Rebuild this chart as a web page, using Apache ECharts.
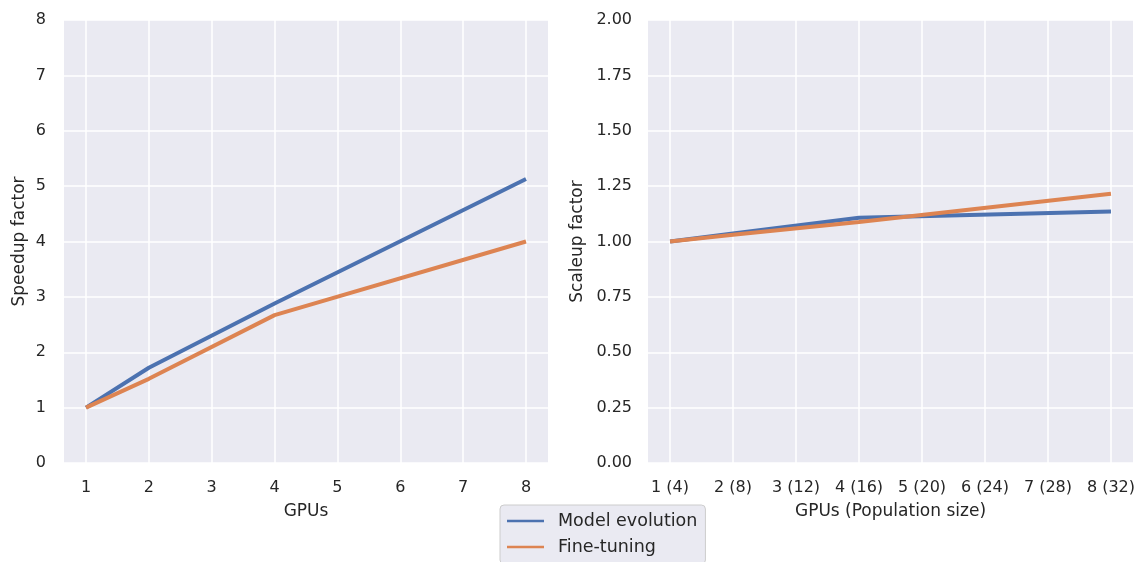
<!DOCTYPE html>
<html>
<head>
<meta charset="utf-8">
<script src="https://cdn.jsdelivr.net/npm/echarts@6/dist/echarts.min.js"></script>
<style>
  html, body { margin: 0; padding: 0; background: #fff; }
  #chart { width: 1139px; height: 562px; }
</style>
</head>
<body>
<div id="chart"></div>
<script>
// data
const gpus = [1, 2, 4, 8];
const speedupModelEvo = [1.0, 1.72, 2.88, 5.13];
const speedupFineTune = [1.0, 1.52, 2.67, 4.0];
const scaleupModelEvo = [1.0, 1.036, 1.107, 1.135];
const scaleupFineTune = [1.0, 1.03, 1.088, 1.216];
const leftXTicks = [1, 2, 3, 4, 5, 6, 7, 8];
const rightXTickLabels = ["1 (4)", "2 (8)", "3 (12)", "4 (16)", "5 (20)", "6 (24)", "7 (28)", "8 (32)"];

const BLUE = "#4c72b0";
const ORANGE = "#dd8452";
const TEXT = "#262626";
const FONT = "DejaVu Sans";

const pairs = (xs, ys) => xs.map((x, i) => [x, ys[i]]);

const chart = echarts.init(document.getElementById("chart"));

const nameStyle = { color: TEXT, fontSize: 17, fontFamily: FONT };

const xAxisBase = {
  type: "value",
  min: 0.65,
  max: 8.35,
  axisLine: { show: false },
  axisTick: { show: false, customValues: leftXTicks },
  splitLine: { show: true, lineStyle: { color: "#fff", width: 1.5 } },
  nameLocation: "middle",
  nameGap: 40,
  nameTextStyle: nameStyle,
};

const yAxisBase = {
  type: "value",
  axisLine: { show: false },
  axisTick: { show: false },
  splitLine: { show: true, lineStyle: { color: "#fff", width: 1.5 } },
  nameLocation: "middle",
  nameTextStyle: nameStyle,
};

const labelStyle = { color: TEXT, fontSize: 16, fontFamily: FONT, margin: 17 };

const lineSeries = (name, color, xAxisIndex, data) => ({
  name: name,
  type: "line",
  xAxisIndex: xAxisIndex,
  yAxisIndex: xAxisIndex,
  data: data,
  showSymbol: false,
  symbol: "none",
  color: color,
  lineStyle: { color: color, width: 4 },
  animation: false,
});

const option = {
  animation: false,
  grid: [
    { left: 64, right: 591, top: 20, bottom: 99, show: true, backgroundColor: "#eaeaf2", borderWidth: 0 },
    { left: 648, right: 6, top: 20, bottom: 99, show: true, backgroundColor: "#eaeaf2", borderWidth: 0 },
  ],
  xAxis: [
    Object.assign({}, xAxisBase, {
      gridIndex: 0,
      name: "GPUs",
      axisLabel: Object.assign({}, labelStyle, { customValues: leftXTicks }),
    }),
    Object.assign({}, xAxisBase, {
      gridIndex: 1,
      name: "GPUs (Population size)",
      axisLabel: Object.assign({}, labelStyle, {
        customValues: leftXTicks,
        formatter: (v) => rightXTickLabels[Math.round(v) - 1],
      }),
    }),
  ],
  yAxis: [
    Object.assign({}, yAxisBase, {
      gridIndex: 0,
      min: 0, max: 8, interval: 1,
      name: "Speedup factor",
      nameGap: 36,
      axisLabel: Object.assign({}, labelStyle, { margin: 18 }),
    }),
    Object.assign({}, yAxisBase, {
      gridIndex: 1,
      min: 0, max: 2, interval: 0.25,
      name: "Scaleup factor",
      nameGap: 62,
      axisLabel: Object.assign({}, labelStyle, { margin: 16, formatter: (v) => v.toFixed(2) }),
    }),
  ],
  legend: {
    orient: "vertical",
    left: 500,
    top: 505,
    height: 80,
    data: ["Model evolution", "Fine-tuning"],
    icon: "rect",
    itemWidth: 37,
    itemHeight: 2.5,
    itemGap: 8,
    padding: [7, 8, 8, 7],
    backgroundColor: "#eaeaf2",
    borderColor: "#cccccc",
    borderWidth: 1,
    borderRadius: 4,
    textStyle: { color: TEXT, fontSize: 17.5, fontFamily: FONT, lineHeight: 18, padding: [0, 0, 0, 9] },
  },
  series: [
    lineSeries("Model evolution", BLUE, 0, pairs(gpus, speedupModelEvo)),
    lineSeries("Fine-tuning", ORANGE, 0, pairs(gpus, speedupFineTune)),
    lineSeries("Model evolution", BLUE, 1, pairs(gpus, scaleupModelEvo)),
    lineSeries("Fine-tuning", ORANGE, 1, pairs(gpus, scaleupFineTune)),
  ],
};

chart.setOption(option);
</script>
</body>
</html>
